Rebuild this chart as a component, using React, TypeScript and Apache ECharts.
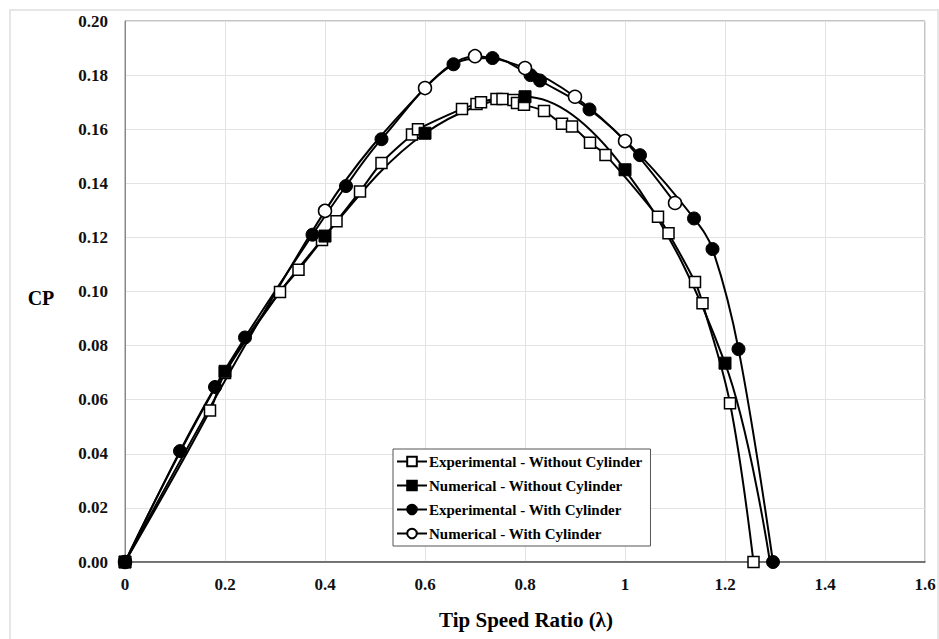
import React, { useEffect, useRef } from "react";
import * as echarts from "echarts";

// Experimental - Without Cylinder (open squares)
const expWithoutX = [0, 0.17, 0.2, 0.31, 0.347, 0.394, 0.423, 0.47, 0.513, 0.574, 0.586, 0.674, 0.703, 0.712, 0.743, 0.755, 0.777, 0.784, 0.798, 0.838, 0.874, 0.894, 0.93, 0.961, 1.066, 1.087, 1.14, 1.155, 1.21, 1.257];
const expWithoutY = [0, 0.056, 0.0699, 0.0998, 0.108, 0.119, 0.126, 0.137, 0.1475, 0.158, 0.16, 0.1675, 0.1693, 0.17, 0.1712, 0.1712, 0.1708, 0.1697, 0.169, 0.1667, 0.162, 0.161, 0.155, 0.1505, 0.1276, 0.1215, 0.1035, 0.0957, 0.0587, 0];

// Numerical - Without Cylinder (filled squares)
const numWithoutX = [0, 0.2, 0.4, 0.6, 0.8, 1.0, 1.2, 1.29];
const numWithoutY = [0, 0.0705, 0.1205, 0.1585, 0.172, 0.145, 0.0735, 0];

// Experimental - With Cylinder (filled circles)
const expWithX = [0, 0.11, 0.18, 0.24, 0.375, 0.442, 0.513, 0.657, 0.735, 0.811, 0.83, 0.929, 1.03, 1.138, 1.175, 1.227, 1.296];
const expWithY = [0, 0.041, 0.0647, 0.083, 0.121, 0.139, 0.1563, 0.184, 0.1863, 0.18, 0.178, 0.1673, 0.1504, 0.127, 0.1157, 0.0787, 0];

// Numerical - With Cylinder (open circles)
const numWithX = [0, 0.4, 0.6, 0.7, 0.8, 0.9, 1.0, 1.1];
const numWithY = [0, 0.1298, 0.1752, 0.187, 0.1826, 0.172, 0.1556, 0.1327];

const seriesNames = [
  "Experimental - Without Cylinder",
  "Numerical - Without Cylinder",
  "Experimental - With Cylinder",
  "Numerical - With Cylinder",
];

const xTitle = "Tip Speed Ratio (λ)";
const yTitle = "CP";

const FONT = "Liberation Serif";

function pairs(xs: number[], ys: number[]) {
  return xs.map((x, i) => [x, ys[i]]);
}

export default function App() {
  const ref = useRef<HTMLDivElement>(null);
  useEffect(() => {
    if (!ref.current) return;
    const chart = echarts.init(ref.current, null, { renderer: "svg" });
    const lineBase = {
      type: "line",
      smooth: 0.35,
      lineStyle: { color: "#000", width: 2 },
      itemStyle: { color: "#000", borderColor: "#000" },
      z: 3,
    };
    const numWithoutData = pairs(numWithoutX, numWithoutY).map((p, i, arr) =>
      i === arr.length - 1 ? { value: p, symbol: "none" } : p
    );
    const option = {
      animation: false,
      backgroundColor: "#fff",
      textStyle: { fontFamily: FONT },
      grid: {
        left: 125,
        top: 21,
        right: 14,
        bottom: 77,
        show: true,
        borderColor: "#888",
        borderWidth: 1,
      },
      xAxis: {
        type: "value",
        min: 0,
        max: 1.6,
        interval: 0.2,
        axisLine: { show: true, lineStyle: { color: "#555", width: 1.5 } },
        axisTick: { show: false },
        splitLine: { show: true, lineStyle: { color: "#e3e3e3", width: 1 } },
        axisLabel: {
          fontFamily: FONT,
          fontWeight: "bold",
          fontSize: 17,
          color: "#111",
          margin: 14,
        },
      },
      yAxis: {
        type: "value",
        min: 0,
        max: 0.2,
        interval: 0.02,
        axisLine: { show: true, lineStyle: { color: "#888", width: 1 } },
        axisTick: { show: false },
        splitLine: { show: true, lineStyle: { color: "#e3e3e3", width: 1 } },
        axisLabel: {
          fontFamily: FONT,
          fontWeight: "bold",
          fontSize: 17,
          color: "#111",
          margin: 17,
          formatter: (v: number) => v.toFixed(2),
        },
      },
      legend: {
        data: seriesNames,
        orient: "vertical",
        left: 393,
        top: 449,
        backgroundColor: "#fff",
        borderColor: "#555",
        borderWidth: 1,
        borderRadius: 0,
        padding: [5, 8, 5, 3],
        itemGap: 9,
        itemWidth: 30,
        itemHeight: 12,
        textStyle: {
          fontFamily: FONT,
          fontWeight: "bold",
          fontSize: 15,
          color: "#000",
          padding: [0, 0, 0, -3],
        },
      },
      graphic: [
        {
          type: "rect",
          shape: { x: 10, y: 10, width: 928, height: 640 },
          style: { fill: "none", stroke: "#e6e6e6", lineWidth: 2 },
          silent: true,
          z: -10,
        },
        {
          type: "text",
          x: 41,
          y: 298,
          style: {
            text: yTitle,
            fontFamily: FONT,
            fontWeight: "bold",
            fontSize: 20,
            fill: "#000",
            align: "center",
            verticalAlign: "middle",
          },
        },
        {
          type: "text",
          x: 526,
          y: 620,
          style: {
            text: xTitle,
            fontFamily: FONT,
            fontWeight: "bold",
            fontSize: 21,
            fill: "#000",
            align: "center",
            verticalAlign: "middle",
          },
        },
      ],
      series: [
        {
          ...lineBase,
          name: seriesNames[0],
          data: pairs(expWithoutX, expWithoutY),
          symbol: "rect",
          symbolSize: 11,
          itemStyle: { color: "#fff", borderColor: "#000", borderWidth: 1.5 },
        },
        {
          ...lineBase,
          name: seriesNames[2],
          data: pairs(expWithX, expWithY),
          symbol: "circle",
          symbolSize: 13,
          itemStyle: { color: "#000", borderColor: "#000", borderWidth: 1 },
        },
        {
          ...lineBase,
          name: seriesNames[3],
          data: pairs(numWithX, numWithY),
          symbol: "circle",
          symbolSize: 13,
          itemStyle: { color: "#fff", borderColor: "#000", borderWidth: 1.5 },
        },
        {
          ...lineBase,
          name: seriesNames[1],
          data: numWithoutData,
          symbol: "rect",
          symbolSize: 12,
          itemStyle: { color: "#000", borderColor: "#000", borderWidth: 1 },
        },
      ],
    };
    chart.setOption(option as any);
    return () => chart.dispose();
  }, []);
  return (
    <div
      ref={ref}
      style={{ position: "fixed", left: 0, top: 0, width: 939, height: 639 }}
    />
  );
}
